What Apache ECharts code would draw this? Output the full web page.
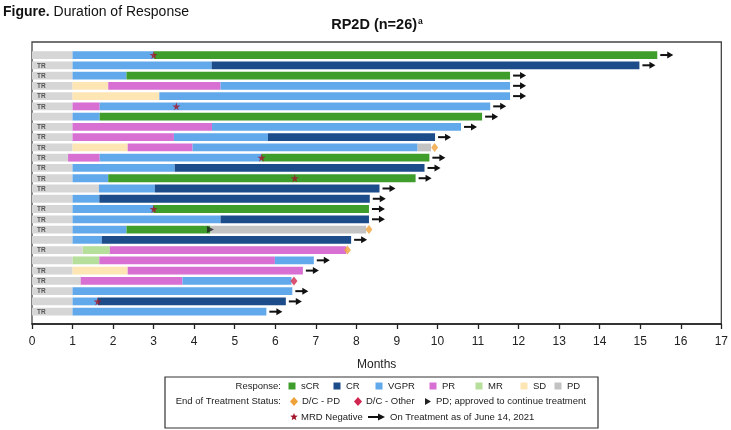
<!DOCTYPE html>
<html>
<head>
<meta charset="utf-8">
<script src="https://cdn.jsdelivr.net/npm/echarts@6/dist/echarts.min.js"></script>
<style>
  html, body { margin: 0; padding: 0; background: #fff; }
  #chart { width: 731px; height: 430px; }
</style>
</head>
<body>
<div id="chart"></div>
<script>
// swimmer plot — Duration of Response, RP2D (n=26)
// each patient: list of [status, end month]; a segment starts where the previous ended (first at 0)
const patients = [
  [["lead", 1], ["VGPR", 3.0], ["sCR", 15.42]],
  [["lead", 1], ["VGPR", 4.43], ["CR", 14.98]],
  [["lead", 1], ["VGPR", 2.33], ["sCR", 11.79]],
  [["lead", 1], ["SD", 1.88], ["PR", 4.65], ["VGPR", 11.79]],
  [["lead", 1], ["SD", 3.14], ["VGPR", 11.79]],
  [["lead", 1], ["PR", 1.67], ["VGPR", 11.3]],
  [["lead", 1], ["VGPR", 1.67], ["sCR", 11.1]],
  [["lead", 1], ["PR", 4.44], ["VGPR", 10.58]],
  [["lead", 1], ["PR", 3.5], ["VGPR", 5.82], ["CR", 9.94]],
  [["lead", 1], ["SD", 2.36], ["PR", 3.96], ["VGPR", 9.51], ["PD", 9.84]],
  [["lead", 0.89], ["PR", 1.67], ["VGPR", 5.66], ["sCR", 9.8]],
  [["lead", 1], ["VGPR", 3.52], ["CR", 9.68]],
  [["lead", 1], ["VGPR", 1.88], ["sCR", 9.46]],
  [["lead", 1.65], ["VGPR", 3.03], ["CR", 8.57]],
  [["lead", 1], ["VGPR", 1.66], ["CR", 8.33]],
  [["lead", 1], ["VGPR", 2.99], ["sCR", 8.31]],
  [["lead", 1], ["VGPR", 4.65], ["CR", 8.31]],
  [["lead", 1], ["VGPR", 2.33], ["sCR", 4.4], ["PD", 8.24]],
  [["lead", 1], ["VGPR", 1.72], ["CR", 7.87]],
  [["lead", 1.25], ["MR", 1.92], ["PR", 7.75]],
  [["lead", 1], ["MR", 1.66], ["PR", 5.99], ["VGPR", 6.95]],
  [["lead", 1], ["SD", 2.36], ["PR", 6.68]],
  [["lead", 1.2], ["PR", 3.71], ["VGPR", 6.4]],
  [["lead", 1], ["VGPR", 6.42]],
  [["lead", 1], ["VGPR", 1.62], ["CR", 6.26]],
  [["lead", 1], ["VGPR", 5.78]],
];
const trRows = [1, 2, 3, 4, 5, 7, 8, 9, 10, 11, 12, 13, 15, 16, 17, 19, 21, 22, 23, 25];
const onTreatment = [0, 1, 2, 3, 4, 5, 6, 7, 8, 10, 11, 12, 13, 14, 15, 16, 18, 20, 21, 23, 24, 25];
const mrdNegative = [[0, 3.0], [5, 3.56], [10, 5.66], [12, 6.48], [15, 3.0], [24, 1.62]];
const dcPD = [[9, 9.93], [17, 8.31], [19, 7.78]];
const dcOther = [[22, 6.46]];
const pdContinue = [[17, 4.4]];

const responseLabels = ["sCR", "CR", "VGPR", "PR", "MR", "SD", "PD"];
const colors = {
  lead: "#d6d6d6", sCR: "#3f9d2c", CR: "#1d4c8a", VGPR: "#62a9ec",
  PR: "#d86fd3", MR: "#b6df9b", SD: "#fde6b4", PD: "#c3c3c3"
};
const C_ORANGE = "#f0a23a", C_RED = "#d1264f", C_STAR = "#a3162a";

const segData = [];
patients.forEach((segs, r) => {
  let s = 0;
  segs.forEach(([k, e]) => { segData.push([r, s, e, k]); s = e; });
});
const arrowData = onTreatment.map(r => { const segs = patients[r]; return [r, segs[segs.length - 1][1]]; });

const STAR = "path://M50,0 L61,35 L98,35 L68,57 L79,91 L50,70 L21,91 L32,57 L2,35 L39,35 Z";

function starPts(cx, cy, R, r) {
  const p = [];
  for (let i = 0; i < 10; i++) {
    const a = -Math.PI / 2 + i * Math.PI / 5, rad = i % 2 ? r : R;
    p.push([cx + rad * Math.cos(a), cy + rad * Math.sin(a)]);
  }
  return p;
}

// legend drawn as graphic
const LF = "Liberation Sans, Arial, sans-serif";
const lg = [];
const lgText = (x, y, t, align) => lg.push({ type: "text", x, y, z: 10,
  style: { text: t, font: "9.5px " + LF, fill: "#222", align: align || "left", verticalAlign: "middle" } });
lg.push({ type: "rect", z: 9, shape: { x: 165, y: 377, width: 433, height: 51 },
  style: { fill: "#fff", stroke: "#333", lineWidth: 1.2 } });
const y1 = 386, y2 = 401.5, y3 = 417;
lgText(281, y1, "Response:", "right");
const sqX = [292, 337, 379, 433, 479, 524, 558];
const txX = [301, 346, 388, 442, 488, 533, 567];
responseLabels.forEach((k, i) => {
  lg.push({ type: "rect", z: 10, shape: { x: sqX[i] - 3.5, y: y1 - 3.5, width: 7, height: 7 }, style: { fill: colors[k] } });
  lgText(txX[i], y1, k);
});
lgText(281, y2, "End of Treatment Status:", "right");
lg.push({ type: "polygon", z: 10, shape: { points: [[294, y2 - 4.5], [298, y2], [294, y2 + 4.5], [290, y2]] }, style: { fill: C_ORANGE } });
lgText(302, y2, "D/C - PD");
lg.push({ type: "polygon", z: 10, shape: { points: [[358, y2 - 4.5], [362, y2], [358, y2 + 4.5], [354, y2]] }, style: { fill: C_RED } });
lgText(366, y2, "D/C - Other");
lg.push({ type: "polygon", z: 10, shape: { points: [[425, y2 - 3.5], [431, y2], [425, y2 + 3.5]] }, style: { fill: "#222" } });
lgText(436, y2, "PD; approved to continue treatment");
lg.push({ type: "polygon", z: 10, shape: { points: starPts(294, y3, 4, 1.7) }, style: { fill: C_STAR } });
lgText(301, y3, "MRD Negative");
lg.push({ type: "line", z: 10, shape: { x1: 368, y1: y3, x2: 380, y2: y3 }, style: { stroke: "#111", lineWidth: 2 } });
lg.push({ type: "polygon", z: 10, shape: { points: [[378, y3 - 3.5], [385, y3], [378, y3 + 3.5]] }, style: { fill: "#111" } });
lgText(390, y3, "On Treatment as of June 14, 2021");

const chart = echarts.init(document.getElementById("chart"), null, { renderer: "canvas" });
chart.setOption({
  animation: false,
  title: [
    { text: "{b|Figure.} Duration of Response", left: 3, top: 5, padding: 0,
      textStyle: { rich: { b: { fontWeight: "bold", fontSize: 14, fontFamily: LF, color: "#111" } },
                   fontSize: 14, fontWeight: "normal", fontFamily: LF, color: "#111" } },
    { text: "{m|RP2D (n=26)}{s|a}", left: 377, top: 17, padding: 0, textAlign: "center",
      textStyle: { rich: {
        m: { fontWeight: "bold", fontSize: 14.5, fontFamily: LF, color: "#111" },
        s: { fontSize: 8.5, fontFamily: LF, color: "#111", verticalAlign: "top", padding: [0, 0, 7, 1] } } } }
  ],
  grid: { left: 32, right: 9, top: 42, bottom: 106, show: true, borderColor: "#444", borderWidth: 1.3 },
  xAxis: {
    type: "value", min: 0, max: 17, interval: 1,
    name: "Months", nameLocation: "middle", nameGap: 35,
    nameTextStyle: { fontSize: 12, fontFamily: LF, color: "#222" },
    axisLine: { onZero: false, lineStyle: { color: "#222", width: 1.5 } },
    axisTick: { length: 5, lineStyle: { color: "#222", width: 1.3 } },
    axisLabel: { fontSize: 12, fontFamily: LF, color: "#222", margin: 12 },
    splitLine: { show: false }
  },
  yAxis: { type: "value", inverse: true, min: -1.27, max: 26.2, show: false },
  series: [
    {
      type: "custom", data: segData, encode: { x: [1, 2], y: 0 }, z: 2,
      renderItem(params, api) {
        const r = api.value(0), a = api.coord([api.value(1), r]), b = api.coord([api.value(2), r]);
        const h = api.size([0, 1])[1] * 0.76;
        return { type: "rect", shape: { x: a[0], y: a[1] - h / 2, width: b[0] - a[0], height: h },
                 style: { fill: colors[segData[params.dataIndex][3]] } };
      }
    },
    {
      type: "custom", data: trRows.map(r => [r, 0]), encode: { x: 1, y: 0 }, z: 3,
      renderItem(params, api) {
        const p = api.coord([0, api.value(0)]);
        return { type: "text", x: p[0] + 5, y: p[1] + 0.5,
                 style: { text: "TR", font: "bold 6.5px " + LF, fill: "#555", verticalAlign: "middle" } };
      }
    },
    {
      type: "custom", data: arrowData, encode: { x: 1, y: 0 }, z: 3,
      renderItem(params, api) {
        const p = api.coord([api.value(1), api.value(0)]);
        const x0 = p[0] + 3, y = p[1];
        return { type: "group", children: [
          { type: "line", shape: { x1: x0, y1: y, x2: x0 + 9, y2: y }, style: { stroke: "#111", lineWidth: 2 } },
          { type: "polygon", shape: { points: [[x0 + 7, y - 3.5], [x0 + 13, y], [x0 + 7, y + 3.5]] }, style: { fill: "#111" } }
        ] };
      }
    },
    { type: "scatter", data: mrdNegative.map(d => [d[1], d[0]]), symbol: STAR, symbolSize: 8, z: 4,
      itemStyle: { color: C_STAR } },
    { type: "scatter", data: dcPD.map(d => [d[1], d[0]]), symbol: "diamond", symbolSize: [7, 9], z: 4,
      itemStyle: { color: C_ORANGE } },
    { type: "scatter", data: dcOther.map(d => [d[1], d[0]]), symbol: "diamond", symbolSize: [7, 9], z: 4,
      itemStyle: { color: C_RED } },
    { type: "scatter", data: pdContinue.map(d => [d[1], d[0]]), symbol: "triangle", symbolRotate: -90,
      symbolSize: 7, z: 4, itemStyle: { color: "#222" } }
  ],
  graphic: lg
});
</script>
</body>
</html>
